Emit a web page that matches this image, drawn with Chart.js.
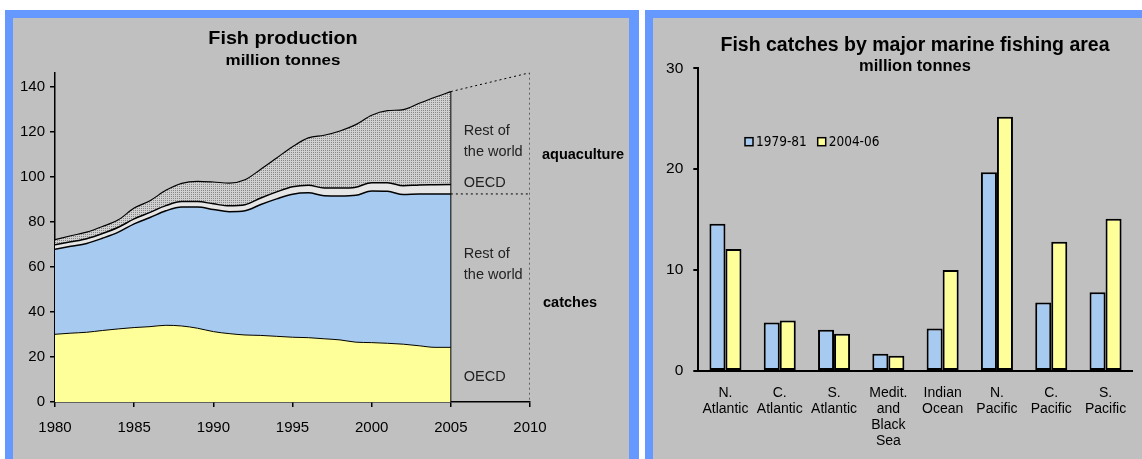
<!DOCTYPE html>
<html>
<head>
<meta charset="utf-8">
<script src="https://cdn.jsdelivr.net/npm/chart.js@4.4.1/dist/chart.umd.min.js"></script>
<style>
  body { margin: 0; background: #fff; width: 1142px; height: 459px; overflow: hidden; position: relative; }
  .panel { position: absolute; top: 10px; height: 449px; background: #c0c0c0; box-sizing: border-box;
           border: 8px solid #6699ff; border-bottom: none; }
  #p1 { left: 5px; width: 634px; border-right-width: 10px; }
  #p2 { left: 645px; width: 505px; }
  .panel canvas { position: absolute; left: 0; top: 0; }
</style>
</head>
<body>
<div class="panel" id="p1"><canvas id="prodChart" width="616" height="441"></canvas></div>
<div class="panel" id="p2"><canvas id="areaChart" width="489" height="441"></canvas></div>
<script>
// fish production, million tonnes (stacked)
const years = [1980, 1981, 1982, 1983, 1984, 1985, 1986, 1987, 1988, 1989, 1990, 1991, 1992,
               1993, 1994, 1995, 1996, 1997, 1998, 1999, 2000, 2001, 2002, 2003, 2004, 2005]
const catchesOECD = [30.1, 30.6, 31.0, 31.8, 32.5, 33.1, 33.5, 34.1, 33.8, 32.8, 31.3, 30.4, 29.8,
                     29.6, 29.2, 28.8, 28.6, 28.1, 27.6, 26.6, 26.4, 26.1, 25.7, 25.0, 24.3, 24.3]
const catchesRest = [37.8, 38.6, 39.5, 41.0, 43.0, 46.1, 48.5, 50.9, 52.9, 53.9, 54.3, 54.2, 55.2,
                     58.2, 61.1, 63.6, 64.4, 63.6, 64.0, 65.3, 67.4, 67.6, 66.5, 67.5, 68.2, 68.2]
const aquaOECD = [2.0, 2.0, 2.1, 2.1, 2.2, 2.2, 2.3, 2.3, 2.4, 2.4, 2.5, 2.6, 2.7,
                  2.9, 3.1, 3.3, 3.4, 3.4, 3.5, 3.6, 3.7, 3.8, 3.9, 4.0, 4.1, 4.2]
const aquaRest = [2.3, 2.7, 2.9, 3.1, 3.3, 4.8, 5.2, 6.8, 8.1, 9.0, 9.7, 10.1, 11.1,
                  12.8, 15.1, 17.8, 21.0, 23.5, 25.4, 27.8, 30.0, 32.0, 33.9, 36.3, 38.9, 41.3]
const yearTicks = [1980, 2010, 5]   // min, max, step
const prodTicks = [0, 146.4, 20]

// fish catches by major marine fishing area, million tonnes
const areas = [['N.', 'Atlantic'], ['C.', 'Atlantic'], ['S.', 'Atlantic'], ['Medit.', 'and', 'Black', 'Sea'],
               ['Indian', 'Ocean'], ['N.', 'Pacific'], ['C.', 'Pacific'], ['S.', 'Pacific']]
const periods = ['1979-81', '2004-06']
const catches7981 = [14.6, 4.8, 4.1, 1.7, 4.2, 19.7, 6.8, 7.8]
const catches0406 = [12.1, 5.0, 3.7, 1.5, 10.0, 25.2, 12.8, 15.1]
const catchTicks = [0, 30, 10]

const SANS = '"Liberation Sans", Arial, sans-serif'
const NARROW = '"DejaVu Sans Condensed", "Arial Narrow", sans-serif'
const BLUE = '#a6caf0'
const YELLOW = '#ffff99'

function stipple () {
  const c = document.createElement('canvas')
  c.width = 2; c.height = 2
  const g = c.getContext('2d')
  g.fillStyle = '#d0d0d0'; g.fillRect(0, 0, 2, 2)
  g.fillStyle = '#868686'; g.fillRect(0, 0, 1, 1)
  return g.createPattern(c, 'repeat')
}

// free text drawn on top (titles, area labels)
const notes = {
  id: 'notes',
  afterDraw (chart, args, opts) {
    const ctx = chart.ctx
    for (const t of opts.items || []) {
      const x = t.px !== undefined ? t.px : chart.scales.x.getPixelForValue(t.x) + (t.dx || 0)
      const y = t.py !== undefined ? t.py : chart.scales.y.getPixelForValue(t.y)
      ctx.save()
      ctx.font = t.font
      ctx.fillStyle = t.color || '#000'
      ctx.textAlign = t.align || 'left'
      ctx.textBaseline = 'middle'
      ctx.translate(x, y)
      ctx.scale(t.sx || 1, 1)
      ctx.fillText(t.text, 0, 0)
      ctx.restore()
    }
  }
}

// small legend inside the plot
const boxLegend = {
  id: 'boxLegend',
  afterDraw (chart, args, opts) {
    if (!opts.items) return
    const ctx = chart.ctx
    chart.data.datasets.forEach((ds, i) => {
      const it = opts.items[i]
      ctx.save()
      ctx.fillStyle = ds.backgroundColor
      ctx.strokeStyle = '#000'
      ctx.lineWidth = 1.5
      ctx.fillRect(it.x, it.y - 4, 8, 8)
      ctx.strokeRect(it.x, it.y - 4, 8, 8)
      ctx.font = opts.font
      ctx.fillStyle = '#000'
      ctx.textBaseline = 'middle'
      ctx.fillText(ds.label, it.x + 11, it.y + 1)
      ctx.restore()
    })
  }
}

const pts = arr => years.map((x, i) => ({ x, y: arr[i] }))
const last = arr => arr[arr.length - 1]
const catchTop = last(catchesOECD) + last(catchesRest)
const prodTop = catchTop + last(aquaOECD) + last(aquaRest)
const x0 = last(years)
const x1 = yearTicks[1]

const area = (label, arr, color, fill, bw) => ({
  label, data: pts(arr), backgroundColor: color, borderColor: '#000', borderWidth: bw,
  fill, pointRadius: 0, cubicInterpolationMode: 'monotone'
})
const guide = (key, data, dash) => ({
  label: key, data, stack: key, borderColor: '#000', borderWidth: 1, borderDash: dash,
  fill: false, pointRadius: 0
})

const LBL = '14.5px ' + SANS

new Chart(document.getElementById('prodChart'), {
  type: 'line',
  data: {
    datasets: [
      guide('g1', [{ x: x0, y: 0 }, { x: x0, y: prodTop }], []),
      guide('g2', [{ x: x0, y: prodTop }, { x: x1, y: prodTicks[1] }], [2, 3]),
      guide('g3', [{ x: x1, y: prodTicks[1] }, { x: x1, y: 0 }], [2, 3]),
      guide('g4', [{ x: x0, y: catchTop }, { x: x1, y: catchTop }], [2, 3]),
      area('OECD catches', catchesOECD, YELLOW, 'origin', 1),
      area('Rest of the world catches', catchesRest, BLUE, '-1', 1.5),
      area('OECD aquaculture', aquaOECD, '#e6e6e6', '-1', 1.5),
      area('Rest of the world aquaculture', aquaRest, stipple(), '-1', 1.2)
    ]
  },
  options: {
    responsive: false,
    animation: false,
    layout: { padding: { top: 54.7, right: 99, left: 0, bottom: 0 } },
    plugins: {
      legend: { display: false },
      tooltip: { enabled: false },
      notes: {
        items: [
          { text: 'Fish production', px: 270, py: 20.7, font: 'bold 17.5px ' + SANS, align: 'center', sx: 1.13 },
          { text: 'million tonnes', px: 270, py: 43, font: 'bold 15px ' + SANS, align: 'center', sx: 1.13 },
          { text: 'Rest of', x: x0, dx: 13, y: 120.4, font: LBL, color: '#222' },
          { text: 'the world', x: x0, dx: 13, y: 111, font: LBL, color: '#222' },
          { text: 'OECD', x: x0, dx: 13, y: 97.3, font: LBL, color: '#222' },
          { text: 'aquaculture', x: x1, dx: 12, y: 110, font: 'bold 14.5px ' + SANS },
          { text: 'Rest of', x: x0, dx: 13, y: 65.6, font: LBL, color: '#222' },
          { text: 'the world', x: x0, dx: 13, y: 56.3, font: LBL, color: '#222' },
          { text: 'catches', x: x1, dx: 13, y: 43.9, font: 'bold 14.5px ' + SANS },
          { text: 'OECD', x: x0, dx: 13, y: 11.2, font: LBL, color: '#222' }
        ]
      }
    },
    scales: {
      x: {
        type: 'linear', min: yearTicks[0], max: yearTicks[1],
        ticks: { stepSize: yearTicks[2], color: '#000', padding: 11.6, font: { family: SANS, size: 15 }, callback: v => String(v) },
        grid: { drawOnChartArea: false, color: '#000', tickLength: 5, lineWidth: 1.5 },
        border: { color: '#000', width: 1.5 },
        afterFit: s => { s.height = 57 }
      },
      y: {
        stacked: true, min: prodTicks[0], max: prodTicks[1],
        ticks: { stepSize: prodTicks[2], includeBounds: false, color: '#000', padding: 5, font: { family: SANS, size: 15 } },
        grid: { drawOnChartArea: false, color: '#000', tickLength: 5, lineWidth: 1.5 },
        border: { color: '#000', width: 1.5 },
        afterFit: s => { s.width = 42 }
      }
    }
  },
  plugins: [notes]
})

new Chart(document.getElementById('areaChart'), {
  type: 'bar',
  data: {
    labels: areas,
    datasets: [
      { label: periods[0], data: catches7981, backgroundColor: BLUE },
      { label: periods[1], data: catches0406, backgroundColor: YELLOW }
    ]
  },
  options: {
    responsive: false,
    animation: false,
    layout: { padding: { top: 50.3, right: 9.3, left: 0, bottom: 0 } },
    datasets: {
      bar: { borderColor: '#000', borderWidth: 2, borderSkipped: false, categoryPercentage: 0.59, barPercentage: 1 }
    },
    plugins: {
      legend: { display: false },
      tooltip: { enabled: false },
      boxLegend: { font: '13.5px ' + NARROW, items: [{ x: 92, y: 123.7 }, { x: 164.7, y: 123.7 }] },
      notes: {
        items: [
          { text: 'Fish catches by major marine fishing area', px: 262, py: 27.7, font: 'bold 19.5px ' + SANS, align: 'center' },
          { text: 'million tonnes', px: 262, py: 48.7, font: 'bold 16.5px ' + SANS, align: 'center' }
        ]
      }
    },
    scales: {
      x: {
        ticks: { color: '#000', padding: 6, font: { family: SANS, size: 14, lineHeight: 1.15 }, maxRotation: 0 },
        grid: { display: false },
        border: { color: '#000', width: 2 },
        afterFit: s => { s.height = 88 }
      },
      y: {
        min: catchTicks[0], max: catchTicks[1],
        ticks: { stepSize: catchTicks[2], color: '#000', padding: 10, font: { family: SANS, size: 15.5 } },
        grid: { drawOnChartArea: false, color: '#000', tickLength: 5, lineWidth: 2 },
        border: { color: '#000', width: 2 },
        afterFit: s => { s.width = 45.3 }
      }
    }
  },
  plugins: [notes, boxLegend]
})
</script>
</body>
</html>
